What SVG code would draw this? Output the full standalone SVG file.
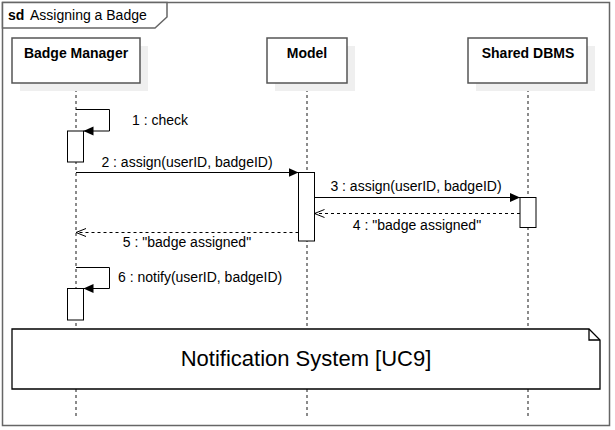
<svg xmlns="http://www.w3.org/2000/svg" width="615" height="430" viewBox="0 0 615 430">
<defs>
<style>
text{font-family:"Liberation Sans",Arial,sans-serif;fill:#000}
.lbl{font-size:14px}
.hdr{font-size:14px;font-weight:bold;text-anchor:middle}
.box{fill:#fff;stroke:#555;stroke-width:1.5}
.shadow{fill:#efefef}
.life{stroke:#666;stroke-width:1.5;stroke-dasharray:3 3;fill:none}
.act{fill:#fff;stroke:#000;stroke-width:1}
.msg{stroke:#000;stroke-width:1;fill:none}
.ret{stroke:#000;stroke-width:1;fill:none;stroke-dasharray:3 3}
</style>
<marker id="filled" viewBox="0 0 10 10" refX="10" refY="5" markerWidth="10" markerHeight="10" markerUnits="userSpaceOnUse" orient="auto">
<path d="M0,0.5 L10,5 L0,9.5 Z" fill="#000"/>
</marker>
<marker id="open" viewBox="0 0 10 10" refX="10" refY="5" markerWidth="10" markerHeight="10" markerUnits="userSpaceOnUse" orient="auto">
<path d="M0,1 L10,5 L0,9" fill="none" stroke="#000" stroke-width="1"/>
</marker>
</defs>
<rect width="615" height="430" fill="#fff"/>
<g id="frame">
<rect x="2.5" y="2.5" width="607" height="423" fill="#fff" stroke="#666" stroke-width="1.5"/>
<polygon points="2.5,2.5 167,2.5 167,17 155,28 2.5,28" fill="#fff" stroke="#666" stroke-width="1.5"/>
<text x="8" y="20" style="font-size:14px;font-weight:bold">sd</text>
<text x="30" y="20" style="font-size:14px">Assigning a Badge</text>
</g>
<g id="lifelines">
<line class="life" x1="76" y1="83" x2="76" y2="418"/>
<line class="life" x1="307" y1="83" x2="307" y2="418"/>
<line class="life" x1="528" y1="83" x2="528" y2="418"/>
</g>
<g id="badge-manager">
<rect class="shadow" x="20" y="46" width="128" height="45"/>
<rect class="box" x="12" y="38" width="128" height="45"/>
<text class="hdr" x="76" y="58">Badge Manager</text>
</g>
<g id="model">
<rect class="shadow" x="275" y="46" width="80" height="45"/>
<rect class="box" x="267" y="38" width="80" height="45"/>
<text class="hdr" x="307" y="58">Model</text>
</g>
<g id="shared-dbms">
<rect class="shadow" x="476" y="46" width="119" height="45"/>
<rect class="box" x="468" y="38" width="119" height="45"/>
<text class="hdr" x="528" y="58">Shared DBMS</text>
</g>
<g id="activations">
<rect class="act" x="67.5" y="131" width="16" height="31"/>
<rect class="act" x="298.5" y="172.5" width="16" height="68.5"/>
<rect class="act" x="520" y="197.5" width="16" height="30"/>
<rect class="act" x="67.5" y="288.5" width="16" height="31.5"/>
</g>
<g id="connectors">
<path class="msg" d="M76,109.5 H109.5 V131 H83.5" marker-end="url(#filled)"/>
<line class="msg" x1="76" y1="172.5" x2="298.5" y2="172.5" marker-end="url(#filled)"/>
<line class="msg" x1="314.5" y1="197.5" x2="520" y2="197.5" marker-end="url(#filled)"/>
<line class="ret" x1="520" y1="213.5" x2="314.5" y2="213.5" marker-end="url(#open)"/>
<line class="ret" x1="298.5" y1="232.5" x2="76" y2="232.5" marker-end="url(#open)"/>
<path class="msg" d="M76,267.5 H109.5 V288.5 H83.5" marker-end="url(#filled)"/>
</g>
<g id="labels">
<text class="lbl" x="132" y="125">1 : check</text>
<text class="lbl" x="187" y="167" text-anchor="middle">2 : assign(userID, badgeID)</text>
<text class="lbl" x="416" y="191" text-anchor="middle">3 : assign(userID, badgeID)</text>
<text class="lbl" x="417" y="230" text-anchor="middle">4 : "badge assigned"</text>
<text class="lbl" x="187" y="247" text-anchor="middle">5 : "badge assigned"</text>
<text class="lbl" x="118" y="282">6 : notify(userID, badgeID)</text>
</g>
<g id="notification-system">
<path d="M12,329 H589 L600,340 V389 H12 Z" fill="#fff" stroke="#000" stroke-width="1.3"/>
<path d="M589,329 V340 H600" fill="none" stroke="#000" stroke-width="1.3"/>
<text x="306" y="366" text-anchor="middle" style="font-size:22px">Notification System [UC9]</text>
</g>
</svg>
